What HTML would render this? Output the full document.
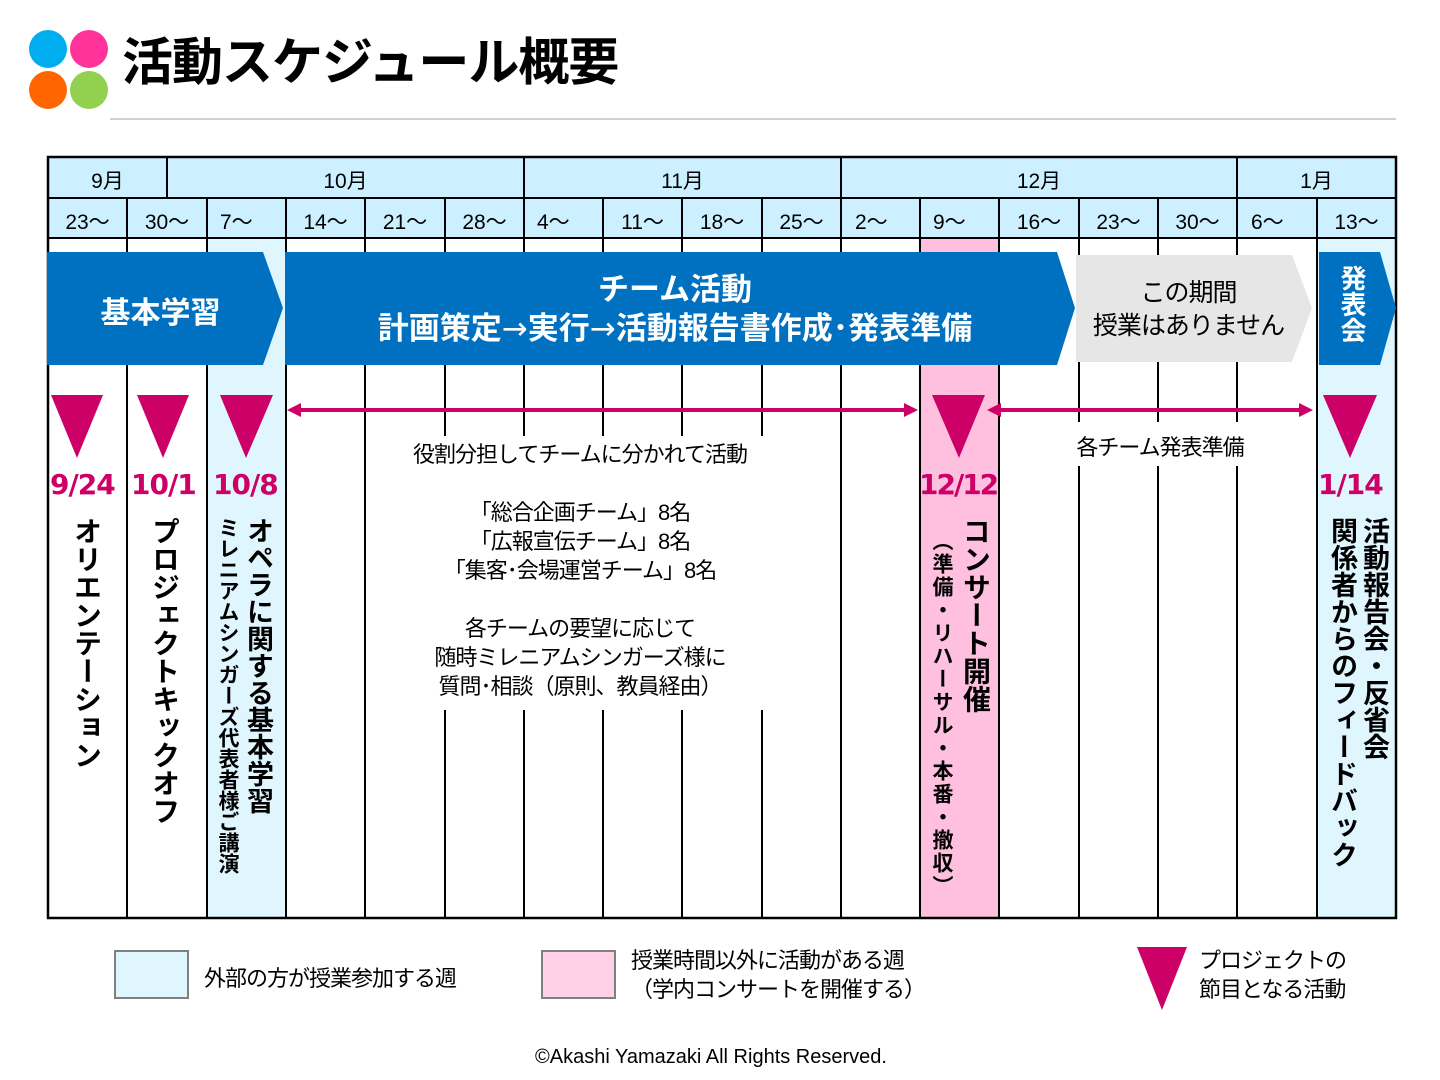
<!DOCTYPE html>
<html><head><meta charset="utf-8">
<style>
body{margin:0;width:1440px;height:1080px;background:#fff;position:relative;overflow:hidden;font-family:"Liberation Sans","Noto Sans CJK JP",sans-serif;}
.t{position:absolute;white-space:nowrap;color:#000;}
.c{text-align:center;}
.v{position:absolute;writing-mode:vertical-rl;font-weight:bold;color:#000;line-height:1;}
.d{position:absolute;color:#CC0066;font-weight:bold;font-size:28px;font-family:"DejaVu Sans","Liberation Sans",sans-serif;letter-spacing:-1px;}
.ar{font-family:"DejaVu Sans",sans-serif;font-weight:normal;}
</style></head><body>
<svg width="1440" height="1080" style="position:absolute;left:0;top:0">
<ellipse cx="48" cy="49" rx="19" ry="19" fill="#00AEEF"/>
<ellipse cx="89" cy="49" rx="19" ry="19" fill="#FF3399"/>
<ellipse cx="48" cy="90" rx="19" ry="19" fill="#FF6600"/>
<ellipse cx="89" cy="90" rx="19" ry="19" fill="#92D050"/>
<line x1="110" y1="119" x2="1396" y2="119" stroke="#A0A0A0" stroke-width="1"/>
<rect x="48" y="157" width="1348" height="81" fill="#CCF0FF"/>
<rect x="207" y="238" width="79" height="680" fill="#E0F6FF"/>
<rect x="920" y="238" width="79" height="680" fill="#FFC0E0"/>
<rect x="1317" y="238" width="79" height="680" fill="#E0F6FF"/>
<g stroke="#000" stroke-width="2">
<line x1="48" y1="198" x2="1396" y2="198"/>
<line x1="48" y1="238" x2="1396" y2="238"/>
<line x1="167" y1="157" x2="167" y2="198"/>
<line x1="524" y1="157" x2="524" y2="198"/>
<line x1="841" y1="157" x2="841" y2="198"/>
<line x1="1237" y1="157" x2="1237" y2="198"/>
<line x1="127" y1="198" x2="127" y2="918"/>
<line x1="207" y1="198" x2="207" y2="918"/>
<line x1="286" y1="198" x2="286" y2="918"/>
<line x1="365" y1="198" x2="365" y2="918"/>
<line x1="445" y1="198" x2="445" y2="918"/>
<line x1="524" y1="198" x2="524" y2="918"/>
<line x1="603" y1="198" x2="603" y2="918"/>
<line x1="682" y1="198" x2="682" y2="918"/>
<line x1="762" y1="198" x2="762" y2="918"/>
<line x1="841" y1="198" x2="841" y2="918"/>
<line x1="920" y1="198" x2="920" y2="918"/>
<line x1="999" y1="198" x2="999" y2="918"/>
<line x1="1079" y1="198" x2="1079" y2="918"/>
<line x1="1158" y1="198" x2="1158" y2="918"/>
<line x1="1237" y1="198" x2="1237" y2="918"/>
<line x1="1317" y1="198" x2="1317" y2="918"/>
</g>
<rect x="48" y="157" width="1348" height="761" fill="none" stroke="#000" stroke-width="2.5"/>
<rect x="400" y="436" width="400" height="274" fill="#fff"/>
<rect x="1060" y="422" width="200" height="44" fill="#fff"/>
<polygon points="47,252 263,252 283,308 263,365 47,365" fill="#0070C0"/>
<polygon points="285,252 1057,252 1075,308 1057,365 285,365" fill="#0070C0"/>
<polygon points="1076,255 1292,255 1312,308 1292,362 1076,362" fill="#E6E6E6"/>
<polygon points="1319,252 1380,252 1396,308 1380,365 1319,365" fill="#0070C0"/>
<g fill="#CC0066">
<polygon points="51,395 103,395 77,458"/>
<polygon points="137,395 189,395 163,458"/>
<polygon points="220,395 273,395 246,458"/>
<polygon points="932,395 985,395 959,458"/>
<polygon points="1323,395 1377,395 1350,458"/>
<polygon points="1137,947 1187,947 1162,1010"/>
</g>
<g stroke="#CC0066" stroke-width="4">
<line x1="295" y1="410" x2="910" y2="410"/>
<line x1="996" y1="410" x2="1304" y2="410"/>
</g>
<g fill="#CC0066">
<polygon points="287,410 301,403 301,417"/>
<polygon points="918,410 904,403 904,417"/>
<polygon points="987,410 1001,403 1001,417"/>
<polygon points="1313,410 1299,403 1299,417"/>
</g>
<rect x="115" y="951" width="73" height="47" fill="#E0F6FF" stroke="#808080" stroke-width="2"/>
<rect x="542" y="951" width="73" height="47" fill="#FFD0E8" stroke="#808080" stroke-width="2"/>
</svg>

<div class="t" style="left:122px;top:32px;font-size:51px;font-weight:bold;line-height:62px;letter-spacing:-1px">活動スケジュール概要</div>

<div class="t c" style="left:48px;width:119px;top:165px;font-size:21px">9月</div>
<div class="t c" style="left:167px;width:357px;top:165px;font-size:21px">10月</div>
<div class="t c" style="left:524px;width:317px;top:165px;font-size:21px">11月</div>
<div class="t c" style="left:841px;width:396px;top:165px;font-size:21px">12月</div>
<div class="t c" style="left:1237px;width:159px;top:165px;font-size:21px">1月</div>
<div class="t c" style="left:48px;width:79px;top:206px;font-size:21px">23～</div>
<div class="t c" style="left:127px;width:80px;top:206px;font-size:21px">30～</div>
<div class="t" style="left:220px;top:206px;font-size:21px">7～</div>
<div class="t c" style="left:286px;width:79px;top:206px;font-size:21px">14～</div>
<div class="t c" style="left:365px;width:80px;top:206px;font-size:21px">21～</div>
<div class="t c" style="left:445px;width:79px;top:206px;font-size:21px">28～</div>
<div class="t" style="left:537px;top:206px;font-size:21px">4～</div>
<div class="t c" style="left:603px;width:79px;top:206px;font-size:21px">11～</div>
<div class="t c" style="left:682px;width:80px;top:206px;font-size:21px">18～</div>
<div class="t c" style="left:762px;width:79px;top:206px;font-size:21px">25～</div>
<div class="t" style="left:855px;top:206px;font-size:21px">2～</div>
<div class="t" style="left:933px;top:206px;font-size:21px">9～</div>
<div class="t c" style="left:999px;width:80px;top:206px;font-size:21px">16～</div>
<div class="t c" style="left:1079px;width:79px;top:206px;font-size:21px">23～</div>
<div class="t c" style="left:1158px;width:79px;top:206px;font-size:21px">30～</div>
<div class="t" style="left:1251px;top:206px;font-size:21px">6～</div>
<div class="t c" style="left:1317px;width:79px;top:206px;font-size:21px">13～</div>

<div class="t c" style="left:48px;width:225px;top:288px;font-size:30px;font-weight:bold;color:#fff">基本学習</div>
<div class="t c" style="left:300px;width:750px;top:270px;font-size:31px;font-weight:bold;color:#fff;line-height:39px;letter-spacing:0px">チーム活動<br>計画策定<span class="ar">→</span>実行<span class="ar">→</span>活動報告書作成･発表準備</div>
<div class="t c" style="left:1076px;width:225px;top:277px;font-size:25px;line-height:33px;letter-spacing:-1px">この期間<br>授業はありません</div>
<div class="v" style="left:1339px;top:265px;font-size:26px;color:#fff">発表会</div>

<div class="d" style="left:50px;top:468px">9/24</div>
<div class="d" style="left:131px;top:468px">10/1</div>
<div class="d" style="left:213px;top:468px">10/8</div>
<div class="d" style="left:919px;top:468px;letter-spacing:-2px">12/12</div>
<div class="d" style="left:1318px;top:468px">1/14</div>

<div class="v" style="left:72px;top:517px;font-size:28px">オリエンテーション</div>
<div class="v" style="left:150px;top:517px;font-size:28px">プロジェクトキックオフ</div>
<div class="v" style="left:244px;top:517px;font-size:27px">オペラに関する基本学習</div>
<div class="v" style="left:217px;top:517px;font-size:21px;font-weight:bold">ミレニアムシンガーズ代表者様ご講演</div>
<div class="v" style="left:961px;top:517px;font-size:28px">コンサート開催</div>
<div class="v" style="left:931px;top:530px;font-size:21px;letter-spacing:2px">（準備・リハーサル・本番・撤収）</div>
<div class="v" style="left:1360px;top:517px;font-size:27px">活動報告会・反省会</div>
<div class="v" style="left:1328px;top:517px;font-size:27px">関係者からのフィードバック</div>

<div class="t c" style="left:370px;width:420px;top:440px;font-size:22px;line-height:29px;letter-spacing:-1px">役割分担してチームに分かれて活動<br><br>「総合企画チーム」8名<br>「広報宣伝チーム」8名<br>「集客･会場運営チーム」8名<br><br>各チームの要望に応じて<br>随時ミレニアムシンガーズ様に<br>質問･相談（原則、教員経由）</div>
<div class="t c" style="left:1040px;width:240px;top:430px;font-size:22px;letter-spacing:-1px">各チーム発表準備</div>

<div class="t" style="left:204px;top:961px;font-size:22px;letter-spacing:-1px">外部の方が授業参加する週</div>
<div class="t" style="left:631px;top:946px;font-size:22px;line-height:29px;letter-spacing:-1px">授業時間以外に活動がある週<br>（学内コンサートを開催する）</div>
<div class="t" style="left:1199px;top:946px;font-size:22px;line-height:29px;letter-spacing:-1px">プロジェクトの<br>節目となる活動</div>
<div class="t c" style="left:0;width:1422px;top:1046px;font-size:20px">©Akashi Yamazaki All Rights Reserved.</div>
</body></html>
